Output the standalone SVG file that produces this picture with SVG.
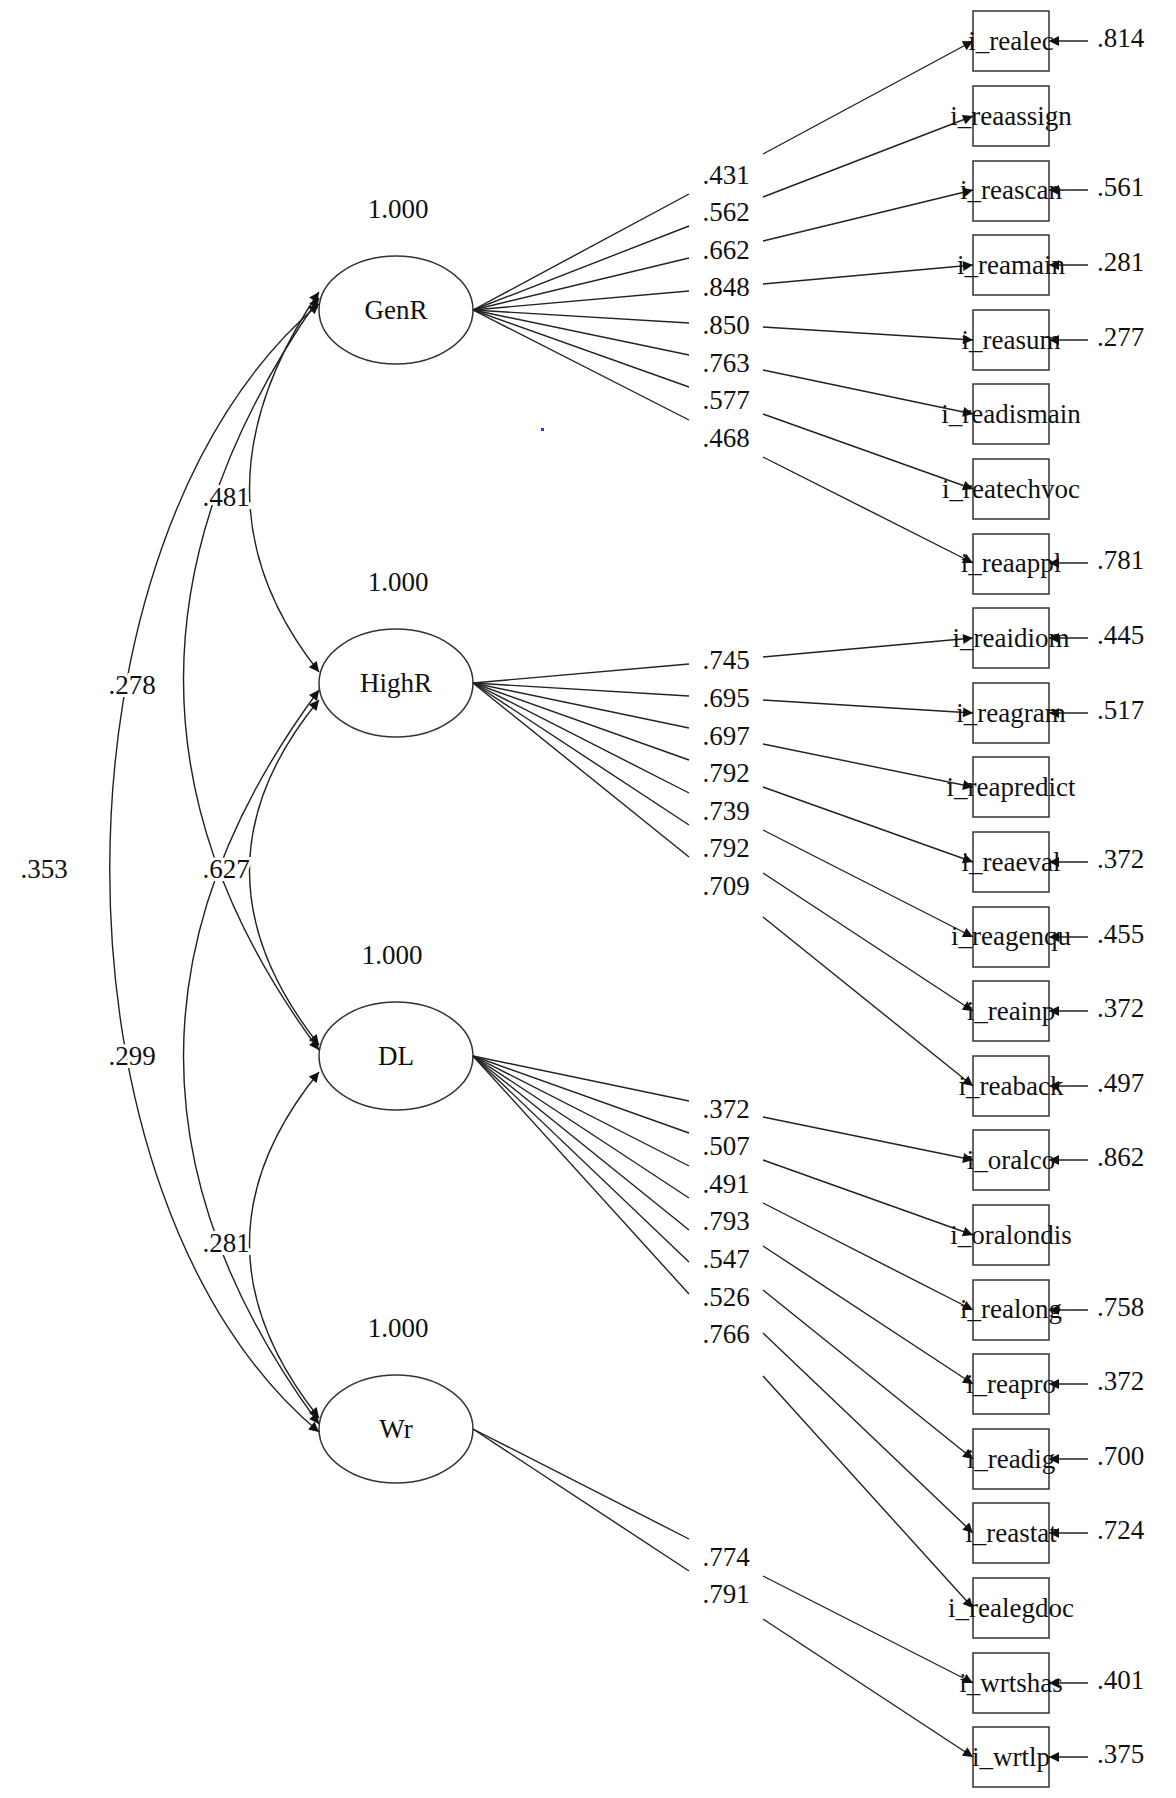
<svg xmlns="http://www.w3.org/2000/svg" width="1176" height="1798" viewBox="0 0 1176 1798">
<style>
text{font-family:"Liberation Serif","DejaVu Serif",serif;font-size:27px;fill:#111}
.c{text-anchor:middle}
.h{paint-order:stroke;stroke:#fff;stroke-width:6px}
ellipse,rect.b{fill:#fff;stroke:#333;stroke-width:1.5}
line,path.cv{stroke:#222;stroke-width:1.4;fill:none}
path.ah{fill:#111;stroke:none}
</style>
<defs>
<marker id="a" viewBox="0 0 10 10" refX="10" refY="5" markerWidth="14" markerHeight="10" markerUnits="userSpaceOnUse" orient="auto-start-reverse"><path class="ah" d="M0,0L10,5L0,10z"/></marker>
</defs>
<g id="latent">
<g id="GenR"><ellipse cx="396" cy="310" rx="77" ry="54"/><text class="c" x="396" y="319">GenR</text><text class="c" x="398" y="218">1.000</text></g>
<g id="HighR"><ellipse cx="396" cy="683" rx="77" ry="54"/><text class="c" x="396" y="692">HighR</text><text class="c" x="398" y="591">1.000</text></g>
<g id="DL"><ellipse cx="396" cy="1056" rx="77" ry="54"/><text class="c" x="396" y="1065">DL</text><text class="c" x="392" y="964">1.000</text></g>
<g id="Wr"><ellipse cx="396" cy="1429" rx="77" ry="54"/><text class="c" x="396" y="1438">Wr</text><text class="c" x="398" y="1337">1.000</text></g>
</g>
<rect x="541" y="428" width="3" height="3" fill="#33f"/>
<g id="indicators">
<rect class="b" x="973" y="11" width="76" height="60"/><rect class="b" x="973" y="86" width="76" height="60"/><rect class="b" x="973" y="161" width="76" height="60"/><rect class="b" x="973" y="235" width="76" height="60"/><rect class="b" x="973" y="310" width="76" height="60"/><rect class="b" x="973" y="384" width="76" height="60"/><rect class="b" x="973" y="459" width="76" height="60"/><rect class="b" x="973" y="534" width="76" height="60"/><rect class="b" x="973" y="608" width="76" height="60"/><rect class="b" x="973" y="683" width="76" height="60"/><rect class="b" x="973" y="757" width="76" height="60"/><rect class="b" x="973" y="832" width="76" height="60"/><rect class="b" x="973" y="907" width="76" height="60"/><rect class="b" x="973" y="981" width="76" height="60"/><rect class="b" x="973" y="1056" width="76" height="60"/><rect class="b" x="973" y="1130" width="76" height="60"/><rect class="b" x="973" y="1205" width="76" height="60"/><rect class="b" x="973" y="1280" width="76" height="60"/><rect class="b" x="973" y="1354" width="76" height="60"/><rect class="b" x="973" y="1429" width="76" height="60"/><rect class="b" x="973" y="1503" width="76" height="60"/><rect class="b" x="973" y="1578" width="76" height="60"/><rect class="b" x="973" y="1653" width="76" height="60"/><rect class="b" x="973" y="1727" width="76" height="60"/>
</g>
<g id="connectors">
<line x1="473" y1="310" x2="689" y2="194"/><line x1="763" y1="154" x2="973" y2="41" marker-end="url(#a)"/>
<line x1="473" y1="310" x2="689" y2="226"/><line x1="763" y1="197" x2="973" y2="116" marker-end="url(#a)"/>
<line x1="473" y1="310" x2="689" y2="258"/><line x1="763" y1="241" x2="973" y2="190" marker-end="url(#a)"/>
<line x1="473" y1="310" x2="689" y2="291"/><line x1="763" y1="284" x2="973" y2="265" marker-end="url(#a)"/>
<line x1="473" y1="310" x2="689" y2="323"/><line x1="763" y1="327" x2="973" y2="340" marker-end="url(#a)"/>
<line x1="473" y1="310" x2="689" y2="355"/><line x1="763" y1="370" x2="973" y2="414" marker-end="url(#a)"/>
<line x1="473" y1="310" x2="689" y2="387"/><line x1="763" y1="414" x2="973" y2="489" marker-end="url(#a)"/>
<line x1="473" y1="310" x2="689" y2="420"/><line x1="763" y1="457" x2="973" y2="563" marker-end="url(#a)"/>
<line x1="473" y1="683" x2="689" y2="664"/><line x1="763" y1="657" x2="973" y2="638" marker-end="url(#a)"/>
<line x1="473" y1="683" x2="689" y2="696"/><line x1="763" y1="700" x2="973" y2="713" marker-end="url(#a)"/>
<line x1="473" y1="683" x2="689" y2="728"/><line x1="763" y1="744" x2="973" y2="787" marker-end="url(#a)"/>
<line x1="473" y1="683" x2="689" y2="760"/><line x1="763" y1="787" x2="973" y2="862" marker-end="url(#a)"/>
<line x1="473" y1="683" x2="689" y2="793"/><line x1="763" y1="830" x2="973" y2="937" marker-end="url(#a)"/>
<line x1="473" y1="683" x2="689" y2="825"/><line x1="763" y1="873" x2="973" y2="1011" marker-end="url(#a)"/>
<line x1="473" y1="683" x2="689" y2="857"/><line x1="763" y1="917" x2="973" y2="1086" marker-end="url(#a)"/>
<line x1="473" y1="1056" x2="689" y2="1101"/><line x1="763" y1="1117" x2="973" y2="1160" marker-end="url(#a)"/>
<line x1="473" y1="1056" x2="689" y2="1133"/><line x1="763" y1="1160" x2="973" y2="1235" marker-end="url(#a)"/>
<line x1="473" y1="1056" x2="689" y2="1166"/><line x1="763" y1="1203" x2="973" y2="1310" marker-end="url(#a)"/>
<line x1="473" y1="1056" x2="689" y2="1198"/><line x1="763" y1="1246" x2="973" y2="1384" marker-end="url(#a)"/>
<line x1="473" y1="1056" x2="689" y2="1230"/><line x1="763" y1="1290" x2="973" y2="1459" marker-end="url(#a)"/>
<line x1="473" y1="1056" x2="689" y2="1262"/><line x1="763" y1="1333" x2="973" y2="1533" marker-end="url(#a)"/>
<line x1="473" y1="1056" x2="689" y2="1294"/><line x1="763" y1="1376" x2="973" y2="1608" marker-end="url(#a)"/>
<line x1="473" y1="1429" x2="689" y2="1539"/><line x1="763" y1="1576" x2="973" y2="1683" marker-end="url(#a)"/>
<line x1="473" y1="1429" x2="689" y2="1571"/><line x1="763" y1="1619" x2="973" y2="1757" marker-end="url(#a)"/>
<g id="residuals">
<line x1="1088" y1="41" x2="1049" y2="41" marker-end="url(#a)"/>
<line x1="1088" y1="190" x2="1049" y2="190" marker-end="url(#a)"/>
<line x1="1088" y1="265" x2="1049" y2="265" marker-end="url(#a)"/>
<line x1="1088" y1="340" x2="1049" y2="340" marker-end="url(#a)"/>
<line x1="1088" y1="563" x2="1049" y2="563" marker-end="url(#a)"/>
<line x1="1088" y1="638" x2="1049" y2="638" marker-end="url(#a)"/>
<line x1="1088" y1="713" x2="1049" y2="713" marker-end="url(#a)"/>
<line x1="1088" y1="862" x2="1049" y2="862" marker-end="url(#a)"/>
<line x1="1088" y1="937" x2="1049" y2="937" marker-end="url(#a)"/>
<line x1="1088" y1="1011" x2="1049" y2="1011" marker-end="url(#a)"/>
<line x1="1088" y1="1086" x2="1049" y2="1086" marker-end="url(#a)"/>
<line x1="1088" y1="1160" x2="1049" y2="1160" marker-end="url(#a)"/>
<line x1="1088" y1="1310" x2="1049" y2="1310" marker-end="url(#a)"/>
<line x1="1088" y1="1384" x2="1049" y2="1384" marker-end="url(#a)"/>
<line x1="1088" y1="1459" x2="1049" y2="1459" marker-end="url(#a)"/>
<line x1="1088" y1="1533" x2="1049" y2="1533" marker-end="url(#a)"/>
<line x1="1088" y1="1683" x2="1049" y2="1683" marker-end="url(#a)"/>
<line x1="1088" y1="1757" x2="1049" y2="1757" marker-end="url(#a)"/>
</g>
<g id="covariances">
<path class="cv" d="M319,292 Q180,497 319,672" marker-start="url(#a)" marker-end="url(#a)"/>
<path class="cv" d="M319,700 Q180,869 319,1045" marker-start="url(#a)" marker-end="url(#a)"/>
<path class="cv" d="M319,1072 Q180,1243 319,1418" marker-start="url(#a)" marker-end="url(#a)"/>
<path class="cv" d="M319,298 Q48,685 319,1050" marker-start="url(#a)" marker-end="url(#a)"/>
<path class="cv" d="M319,690 Q48,1056 319,1424" marker-start="url(#a)" marker-end="url(#a)"/>
<path class="cv" d="M319,304 C40,540 40,1200 319,1432" marker-start="url(#a)" marker-end="url(#a)"/>
</g>
</g>
<g id="labels">
<text class="c h" x="726" y="184">.431</text><text class="c h" x="726" y="221">.562</text><text class="c h" x="726" y="259">.662</text><text class="c h" x="726" y="296">.848</text><text class="c h" x="726" y="334">.850</text><text class="c h" x="726" y="372">.763</text><text class="c h" x="726" y="409">.577</text><text class="c h" x="726" y="447">.468</text>
<text class="c h" x="726" y="669">.745</text><text class="c h" x="726" y="707">.695</text><text class="c h" x="726" y="745">.697</text><text class="c h" x="726" y="782">.792</text><text class="c h" x="726" y="820">.739</text><text class="c h" x="726" y="857">.792</text><text class="c h" x="726" y="895">.709</text>
<text class="c h" x="726" y="1118">.372</text><text class="c h" x="726" y="1155">.507</text><text class="c h" x="726" y="1193">.491</text><text class="c h" x="726" y="1230">.793</text><text class="c h" x="726" y="1268">.547</text><text class="c h" x="726" y="1306">.526</text><text class="c h" x="726" y="1343">.766</text>
<text class="c h" x="726" y="1566">.774</text><text class="c h" x="726" y="1603">.791</text>
<text class="c h" x="226" y="506">.481</text><text class="c h" x="226" y="878">.627</text><text class="c h" x="226" y="1252">.281</text><text class="c h" x="132" y="694">.278</text><text class="c h" x="132" y="1065">.299</text><text class="c h" x="44" y="878">.353</text>
<text x="1097" y="47">.814</text><text x="1097" y="196">.561</text><text x="1097" y="271">.281</text><text x="1097" y="346">.277</text><text x="1097" y="569">.781</text><text x="1097" y="644">.445</text><text x="1097" y="719">.517</text><text x="1097" y="868">.372</text><text x="1097" y="943">.455</text><text x="1097" y="1017">.372</text><text x="1097" y="1092">.497</text><text x="1097" y="1166">.862</text><text x="1097" y="1316">.758</text><text x="1097" y="1390">.372</text><text x="1097" y="1465">.700</text><text x="1097" y="1539">.724</text><text x="1097" y="1689">.401</text><text x="1097" y="1763">.375</text>
</g>
<g id="names" font-size="26">
<text class="c" x="1011" y="50">i_realec</text><text class="c" x="1011" y="125">i_reaassign</text><text class="c" x="1011" y="199">i_reascan</text><text class="c" x="1011" y="274">i_reamain</text><text class="c" x="1011" y="349">i_reasum</text><text class="c" x="1011" y="423">i_readismain</text><text class="c" x="1011" y="498">i_reatechvoc</text><text class="c" x="1011" y="572">i_reaappl</text><text class="c" x="1011" y="647">i_reaidiom</text><text class="c" x="1011" y="722">i_reagram</text><text class="c" x="1011" y="796">i_reapredict</text><text class="c" x="1011" y="871">i_reaeval</text><text class="c" x="1011" y="945">i_reagenqu</text><text class="c" x="1011" y="1020">i_reainp</text><text class="c" x="1011" y="1095">i_reaback</text><text class="c" x="1011" y="1169">i_oralco</text><text class="c" x="1011" y="1244">i_oralondis</text><text class="c" x="1011" y="1318">i_realong</text><text class="c" x="1011" y="1393">i_reapro</text><text class="c" x="1011" y="1468">i_readig</text><text class="c" x="1011" y="1542">i_reastat</text><text class="c" x="1011" y="1617">i_realegdoc</text><text class="c" x="1011" y="1692">i_wrtshas</text><text class="c" x="1011" y="1766">i_wrtlp</text>
</g>
</svg>
